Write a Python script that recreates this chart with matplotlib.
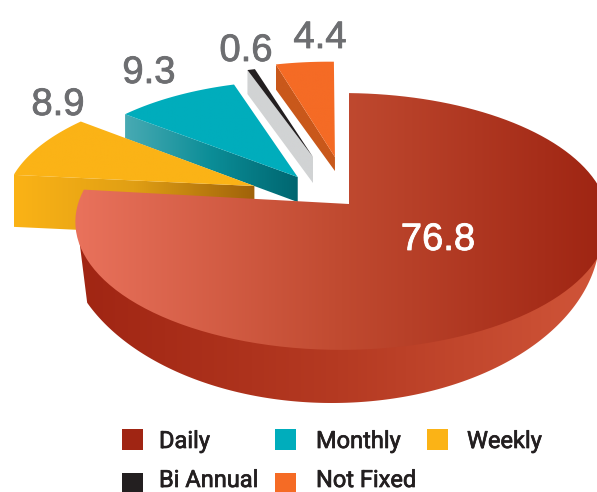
import numpy as np
import matplotlib
matplotlib.use('Agg')
import matplotlib.pyplot as plt
import matplotlib.patheffects as pe
from matplotlib.colors import LinearSegmentedColormap
from matplotlib.patches import Polygon, Rectangle

categories = ['Daily', 'Weekly', 'Monthly', 'Bi Annual', 'Not Fixed']
values = [76.8, 8.9, 9.3, 0.6, 4.4]
value_labels = ['76.8', '8.9', '9.3', '0.6', '4.4']
legend_order = ['Daily', 'Monthly', 'Weekly', 'Bi Annual', 'Not Fixed']

top_colors = {
    'Weekly': ['#FBB316', '#FBB316'],
    'Monthly': ['#00ADBC', '#00ADBC'],
    'Bi Annual': ['#231F20', '#231F20'],
    'Not Fixed': ['#F56B25', '#F56B25'],
}
wall_colors = {
    'Weekly': ['#FBB316', '#E09F14', '#A0620A'],
    'Monthly': ['#48AAB3', '#0B8D97', '#006670'],
    'Bi Annual': ['#D1D3D4', '#D1D3D4'],
    'Not Fixed': ['#C9581B', '#C9581B'],
}
legend_colors = {'Daily': '#A02513', 'Monthly': '#00ADBC', 'Weekly': '#FBB316',
                 'Bi Annual': '#231F20', 'Not Fixed': '#F56B25'}

# explode in disc units: shift along u, shift along v, radius, turn in degrees
explode = {
    'Daily': (0, 0, 1, 0),
    'Weekly': (-0.362, 0.144, 0.91, -1),
    'Monthly': (-0.199, 0.219, 0.905, -1),
    'Bi Annual': (-0.143, 0.391, 0.89, -1.8),
    'Not Fixed': (-0.056, 0.392, 0.94, -0.7),
}
# wall height in pixels at rim and at apex
walls = {'Weekly': (52, 52), 'Monthly': (24, 25), 'Bi Annual': (24, 26), 'Not Fixed': (25, 14)}
# label centre x and baseline y
label_pos = {'Daily': (438, 250), 'Weekly': (58, 115), 'Monthly': (149, 83),
             'Bi Annual': (246, 61), 'Not Fixed': (320, 48)}


def project(u, v):
    # tilted disc, far side foreshortened
    den = 1 + 0.136 * v + 0.026 * u
    return np.column_stack([349 + 264 * u / den, 204 - 126 * v / den])


def wedge(a0, a1, du, dv, r):
    t = np.radians(np.linspace(a0, a1, 120))
    u = np.r_[du, du + r * np.sin(t)]
    v = np.r_[dv, dv + r * np.cos(t)]
    return project(u, v)


def grad_fill(ax, pts, colors, z):
    cmap = LinearSegmentedColormap.from_list('g', colors)
    x0, x1 = pts[:, 0].min(), pts[:, 0].max()
    y0, y1 = pts[:, 1].min(), pts[:, 1].max()
    im = ax.imshow(np.linspace(0, 1, 256).reshape(1, -1), cmap=cmap, extent=[x0, x1, y1, y0],
                   aspect='auto', zorder=z, interpolation='bilinear')
    patch = Polygon(pts, closed=True, transform=ax.transData, fc='none', ec='none')
    ax.add_patch(patch)
    im.set_clip_path(patch)


plt.rcParams['font.family'] = ['Liberation Sans', 'DejaVu Sans']
fig = plt.figure(figsize=(5.97, 4.92), dpi=100)
ax = fig.add_axes([0, 0, 1, 1])

angles = np.r_[0, np.cumsum(values)] * 3.6
order_z = {'Not Fixed': 2, 'Bi Annual': 3, 'Monthly': 4, 'Weekly': 6, 'Daily': 10}

# main slice side wall first, top face goes over it
phi = np.radians(np.linspace(156, 0, 200))
rim = np.column_stack([332 + 268 * np.cos(phi), 234 + 169 * np.sin(phi)])
wall_pts = np.vstack([[[77, 222]], rim, [[600, 200]]])
grad_fill(ax, wall_pts, ['#A02513', '#B53A22', '#D05539'], order_z['Daily'])

for i, name in enumerate(categories):
    du, dv, r, turn = explode[name]
    pts = wedge(angles[i] + turn, angles[i + 1] + turn, du, dv, r)
    z = order_z[name]
    if name == 'Daily':
        grad_fill(ax, pts, ['#E9725C', '#C04A30', '#9E2412'], z + 1)
        continue
    h_rim, h_apex = walls[name]
    apex = pts[0]
    outer = pts[1]
    side = np.array([outer, apex, apex + [0, h_apex], outer + [0, h_rim]])
    grad_fill(ax, side, wall_colors[name], z)
    grad_fill(ax, pts, top_colors[name], z + 1)

for i, name in enumerate(categories):
    x, y = label_pos[name]
    col = 'white' if name == 'Daily' else '#6D6E71'
    t = ax.text(x, y, value_labels[i], ha='center', va='baseline', fontsize=27.5, color=col, zorder=20)
    t.set_path_effects([pe.withStroke(linewidth=0.6, foreground=col)])

# legend
legend_x = [(122, 159), (275, 316), (427, 467), (122, 159), (275, 316)]
legend_box_y = [429, 429, 429, 473, 473]
legend_text_y = [448, 448, 448, 487, 487]
for name, (bx, tx), by, ty in zip(legend_order, legend_x, legend_box_y, legend_text_y):
    ax.add_patch(Rectangle((bx, by), 21, 21, fc=legend_colors[name], ec='none', zorder=20))
    t = ax.text(tx, ty, name, ha='left', va='baseline', fontsize=17, color='#231F20', zorder=20,
                family=['Roboto', 'Liberation Sans'])
    t.set_path_effects([pe.withStroke(linewidth=0.5, foreground='#231F20')])

ax.set_xlim(0, 597)
ax.set_ylim(492, 0)
ax.axis('off')
fig.savefig('out.png', dpi=100)
